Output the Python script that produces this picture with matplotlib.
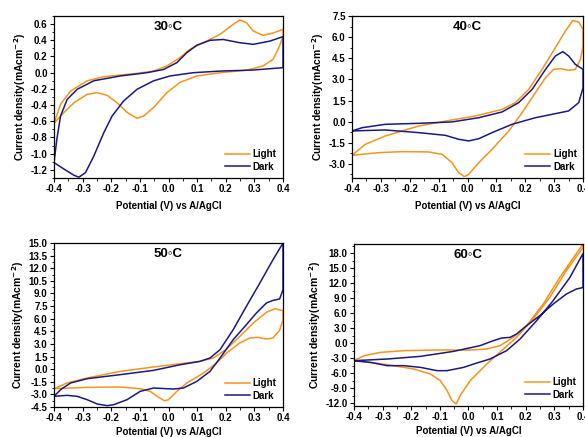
import matplotlib
matplotlib.use("Agg")
import matplotlib.pyplot as plt
from matplotlib.ticker import MultipleLocator, AutoMinorLocator, FormatStrFormatter

plt.rcParams['font.family'] = ['Liberation Sans', 'DejaVu Sans']
plt.rcParams['font.weight'] = 'bold'

ORANGE = '#F7931E'
NAVY = '#1B1A80'

titles = ['30\u25e6C', '40\u25e6C', '50\u25e6C', '60\u25e6C']

# 30 C
l30_x = [-0.4, -0.377, -0.342, -0.284, -0.226, -0.11, -0.052, -0.006, 0.04, 0.075, 0.122, 0.18, 0.226, 0.249, 0.272, 0.296, 0.33, 0.365, 0.4,
         0.4, 0.383, 0.365, 0.33, 0.272, 0.18, 0.099, 0.04, -0.006, -0.052, -0.087, -0.11, -0.145, -0.18, -0.214, -0.249, -0.284, -0.33, -0.365, -0.4]
l30_y = [-0.625, -0.39, -0.226, -0.10, -0.05, -0.008, 0.02, 0.083, 0.186, 0.29, 0.37, 0.474, 0.597, 0.65, 0.618, 0.515, 0.46, 0.49, 0.535,
         0.445, 0.29, 0.165, 0.083, 0.03, 0.0, -0.04, -0.12, -0.247, -0.43, -0.535, -0.563, -0.49, -0.37, -0.28, -0.246, -0.267, -0.37, -0.49, -0.625]
d30_x = [-0.4, -0.365, -0.33, -0.313, -0.29, -0.261, -0.226, -0.197, -0.157, -0.11, -0.052, 0.006, 0.087, 0.18, 0.296, 0.4,
         0.4, 0.354, 0.296, 0.249, 0.191, 0.145, 0.099, 0.064, 0.029, -0.017, -0.075, -0.168, -0.261, -0.319, -0.354, -0.377, -0.39, -0.4]
d30_y = [-1.11, -1.19, -1.267, -1.29, -1.234, -1.03, -0.74, -0.535, -0.35, -0.205, -0.10, -0.04, 0.0, 0.02, 0.033, 0.062,
         0.445, 0.39, 0.35, 0.37, 0.41, 0.40, 0.34, 0.247, 0.124, 0.04, 0.0, -0.04, -0.10, -0.205, -0.33, -0.535, -0.82, -1.11]

# 40 C
l40_x = [-0.4, -0.354, -0.285, -0.169, -0.054, 0.027, 0.12, 0.166, 0.212, 0.258, 0.304, 0.339, 0.364, 0.385, 0.4,
         0.4, 0.391, 0.373, 0.35, 0.322, 0.298, 0.27, 0.235, 0.189, 0.143, 0.085, 0.039, 0.004, -0.011, -0.031, -0.054, -0.088, -0.135, -0.227, -0.308, -0.4]
l40_y = [-2.39, -1.61, -1.02, -0.31, 0.12, 0.4, 0.87, 1.35, 2.3, 3.71, 5.25, 6.44, 7.17, 7.07, 6.55,
         5.37, 4.42, 3.71, 3.64, 3.76, 3.71, 3.12, 2.06, 0.64, -0.66, -1.96, -2.91, -3.74, -3.9, -3.62, -2.91, -2.32, -2.15, -2.13, -2.2, -2.39]
d40_x = [-0.4, -0.365, -0.285, -0.169, -0.054, 0.039, 0.12, 0.177, 0.224, 0.27, 0.304, 0.33, 0.35, 0.373, 0.4,
         0.4, 0.385, 0.35, 0.293, 0.235, 0.154, 0.085, 0.039, 0.004, -0.031, -0.077, -0.169, -0.285, -0.4]
d40_y = [-0.66, -0.43, -0.19, -0.12, -0.02, 0.28, 0.69, 1.35, 2.3, 3.71, 4.66, 4.97, 4.66, 4.07, 3.71,
         2.41, 1.35, 0.76, 0.52, 0.28, -0.19, -0.78, -1.21, -1.37, -1.25, -0.97, -0.78, -0.59, -0.66]

# 50 C
l50_x = [-0.4, -0.354, -0.284, -0.168, -0.052, 0.041, 0.11, 0.157, 0.203, 0.249, 0.296, 0.342, 0.371, 0.4,
         0.4, 0.388, 0.365, 0.342, 0.313, 0.284, 0.249, 0.203, 0.168, 0.122, 0.064, 0.029, 0.0, -0.014, -0.035, -0.064, -0.099, -0.168, -0.284, -0.4]
l50_y = [-2.32, -1.64, -1.05, -0.26, 0.26, 0.65, 0.93, 1.33, 2.4, 3.9, 5.49, 6.76, 7.19, 6.95,
         5.88, 4.62, 3.71, 3.59, 3.78, 3.71, 3.11, 1.92, 0.73, -0.46, -1.64, -2.64, -3.63, -3.75, -3.35, -2.64, -2.32, -2.12, -2.16, -2.32]
d50_x = [-0.4, -0.377, -0.342, -0.284, -0.168, -0.052, 0.041, 0.11, 0.145, 0.18, 0.226, 0.272, 0.319, 0.365, 0.4,
         0.4, 0.388, 0.365, 0.342, 0.307, 0.272, 0.226, 0.18, 0.145, 0.099, 0.052, 0.017, -0.052, -0.099, -0.145, -0.191, -0.214, -0.249, -0.284, -0.319, -0.354, -0.4]
d50_y = [-3.23, -2.44, -1.64, -1.13, -0.65, -0.14, 0.53, 0.93, 1.33, 2.32, 4.7, 7.47, 10.24, 13.02, 15.0,
         9.45, 8.34, 8.18, 7.87, 6.68, 5.29, 3.51, 1.33, -0.26, -1.45, -2.24, -2.36, -2.24, -2.64, -3.63, -4.22, -4.34, -4.14, -3.63, -3.23, -3.11, -3.23]

# 60 C
l60_x = [-0.4, -0.365, -0.307, -0.226, -0.11, 0.006, 0.064, 0.11, 0.156, 0.203, 0.261, 0.319, 0.4,
         0.4, 0.342, 0.284, 0.226, 0.168, 0.122, 0.064, 0.006, -0.029, -0.043, -0.058, -0.075, -0.099, -0.133, -0.191, -0.284, -0.4]
l60_y = [-3.53, -2.53, -1.87, -1.53, -1.4, -1.4, -1.2, -0.53, 1.13, 3.47, 7.8, 13.13, 19.8,
         19.1, 14.5, 9.13, 4.8, 1.13, -1.2, -4.2, -7.5, -10.5, -12.2, -11.5, -9.5, -7.5, -6.2, -5.2, -4.33, -3.53]
d60_x = [-0.4, -0.284, -0.168, -0.052, 0.04, 0.087, 0.116, 0.145, 0.168, 0.203, 0.249, 0.296, 0.342, 0.377, 0.4,
         0.4, 0.354, 0.296, 0.238, 0.18, 0.133, 0.075, 0.029, -0.017, -0.075, -0.11, -0.168, -0.226, -0.284, -0.342, -0.4]
d60_y = [-3.53, -3.2, -2.67, -1.67, -0.53, 0.47, 1.0, 1.13, 1.8, 3.47, 5.47, 7.8, 9.8, 10.8, 11.1,
         17.9, 13.1, 8.5, 4.47, 0.8, -1.53, -3.2, -4.0, -4.87, -5.53, -5.53, -4.87, -4.53, -4.53, -3.87, -3.53]

panels = [
    (l30_x, l30_y, d30_x, d30_y, (-1.3, 0.7), 0.2),
    (l40_x, l40_y, d40_x, d40_y, (-4.0, 7.5), 1.5),
    (l50_x, l50_y, d50_x, d50_y, (-4.5, 15.0), 1.5),
    (l60_x, l60_y, d60_x, d60_y, (-12.6, 19.8), 3.0),
]
rects = [
    [0.0923, 0.5927, 0.3915, 0.3707],
    [0.6017, 0.5927, 0.3950, 0.3707],
    [0.0923, 0.0686, 0.3915, 0.3753],
    [0.6051, 0.0709, 0.3915, 0.3707],
]
xpads = [5, 5, 2.5, 2.5]

fig = plt.figure(figsize=(5.85, 4.37), dpi=100)
for i, (lx, ly, dx, dy, ylim, step) in enumerate(panels):
    ax = fig.add_axes(rects[i])
    ax.plot(lx, ly, color=ORANGE, lw=1.1, label='Light', solid_joinstyle='round')
    ax.plot(dx, dy, color=NAVY, lw=1.1, label='Dark', solid_joinstyle='round')
    ax.set_xlim(-0.4, 0.4)
    ax.set_ylim(*ylim)
    ax.xaxis.set_major_locator(MultipleLocator(0.1))
    ax.xaxis.set_major_formatter(FormatStrFormatter('%.1f'))
    ax.xaxis.set_minor_locator(AutoMinorLocator(2))
    ax.yaxis.set_major_locator(MultipleLocator(step))
    ax.yaxis.set_major_formatter(FormatStrFormatter('%.1f'))
    ax.yaxis.set_minor_locator(AutoMinorLocator(2))
    ax.tick_params(which='major', direction='out', length=3, width=0.8, labelsize=7, pad=1.5)
    ax.tick_params(which='minor', direction='out', length=1.8, width=0.6)
    for lab in ax.get_xticklabels() + ax.get_yticklabels():
        lab.set_fontweight('bold')
    for s in ax.spines.values():
        s.set_linewidth(0.9)
    ax.set_xlabel('Potential (V) vs A/AgCl', fontsize=7, fontweight='bold', labelpad=xpads[i])
    ax.set_ylabel('Current density(mAcm$^{\\mathbf{-2}}$)', fontsize=7.5, fontweight='bold', labelpad=2)
    ax.text(0.5, 0.935, titles[i], transform=ax.transAxes, ha='center', va='center', fontsize=9.5, fontweight='bold')
    leg = ax.legend(loc='lower right', frameon=False, fontsize=7, handlelength=2.6,
                    handletextpad=0.3, labelspacing=0.25, borderaxespad=0.25)
    for t in leg.get_texts():
        t.set_fontweight('bold')

fig.savefig('out.png', dpi=100)
